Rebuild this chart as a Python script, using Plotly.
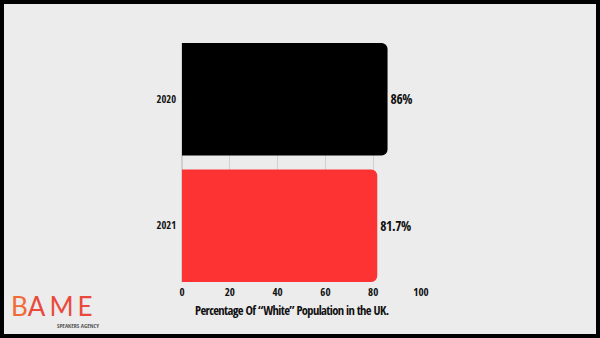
import plotly.graph_objects as go

years = ["2020", "2021"]
values = [86, 81.7]
labels = ["86%", "81.7%"]
colors = ["#000000", "#fd3232"]
x_ticks = [0, 20, 40, 60, 80, 100]
x_title = "Percentage Of “White” Population in the UK."

W, H = 600, 338
L, R, T, B = 182, 179, 43, 56
pw = W - L - R
ph = H - T - B

def px2x(px):
    return (px - L) / pw

def py2y(py):
    return 1 - (py - T) / ph

FONT = "Open Sans Condensed, Roboto Condensed, sans-serif"

def tight(s, ls):
    return f'<span style="letter-spacing:{ls}px">{s}</span>'

fig = go.Figure()
fig.add_trace(go.Bar(
    y=years, x=values, orientation="h",
    marker=dict(color=colors, line=dict(width=0)),
    text=[tight(t, -0.4) for t in labels], textposition="outside",
    textfont=dict(family=FONT, size=13.5, color="#111111", weight=800),
    cliponaxis=False,
))

g = 0.1107
fig.update_layout(
    width=W, height=H,
    margin=dict(l=L, r=R, t=T, b=B),
    paper_bgcolor="#ececec", plot_bgcolor="#ececec",
    bargap=g, barcornerradius=6,
    showlegend=False,
    xaxis=dict(range=[0, 100], tickvals=x_ticks, showgrid=True, gridcolor="#d0d0d0",
               gridwidth=1, zeroline=True, zerolinecolor="#d0d0d0", showline=False,
               ticks="", ticklabelstandoff=2,
               tickfont=dict(family=FONT, size=11, color="#111111", weight=800)),
    yaxis=dict(type="category", categoryarray=years, range=[1.5 - g / 2, -0.5 + g / 2],
               showgrid=False, zeroline=False, showline=False, ticks="",
               ticklabelstandoff=5,
               tickfont=dict(family=FONT, size=10.5, color="#111111", weight=700)),
    shapes=[dict(type="rect", xref="paper", yref="paper",
                 x0=px2x(2), x1=px2x(598), y0=py2y(336), y1=py2y(2),
                 line=dict(color="#000000", width=4), fillcolor="rgba(0,0,0,0)", layer="above")],
    annotations=[
        dict(text=tight(x_title, -0.6), xref="paper", yref="paper", x=px2x(291.5), y=py2y(310.5),
             xanchor="center", yanchor="middle", showarrow=False,
             font=dict(family=FONT, size=12.5, color="#111111", weight=800)),
        dict(text='<span style="fill:#f26a36">B</span><span style="letter-spacing:4px">AME</span>',
             xref="paper", yref="paper", x=px2x(9), y=py2y(306),
             xanchor="left", yanchor="middle", showarrow=False,
             font=dict(family="Lato, Noto Sans, sans-serif", size=26, color="#ea4a3c")),
        dict(text="SPEAKERS AGENCY", xref="paper", yref="paper", x=px2x(101), y=py2y(326),
             xanchor="right", yanchor="middle", showarrow=False,
             font=dict(family=FONT, size=6, color="#555555", weight=700)),
    ],
)

fig.write_html("out.html")
